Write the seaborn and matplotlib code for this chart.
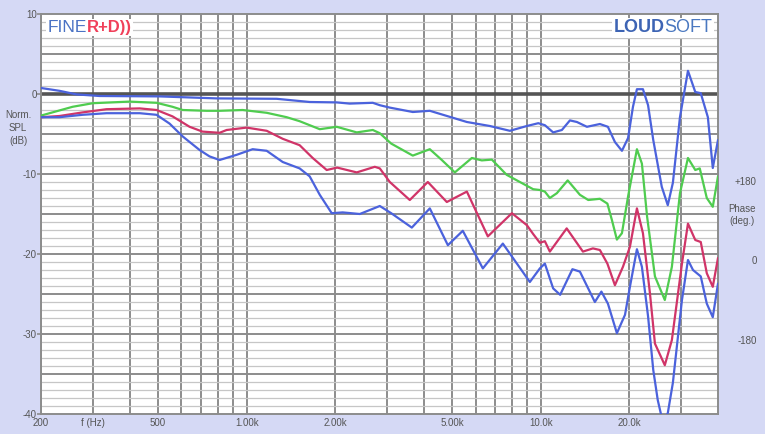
import pandas as pd
import matplotlib
matplotlib.use("Agg")
import matplotlib.pyplot as plt
import seaborn as sns

# Curves (frequency in Hz, normalized SPL in dB)
freq_top = [200, 231, 264, 316, 506, 791, 1265, 1638, 2024, 2240, 2684, 2835, 3066, 3670,
            4193, 5604, 6708, 7846, 8964, 9800, 10318, 11010, 11786, 12554, 13260, 14340,
            15872, 16898, 17852, 18860, 19790, 20560, 21208, 22230, 23140, 24100, 25760,
            27000, 28100, 29700, 31620, 33480, 34950, 36950, 38400, 40000]
spl_top = [0.75, 0.4, -0.05, -0.25, -0.3, -0.55, -0.6, -1.0, -1.05, -1.2, -1.1, -1.4, -1.7,
           -2.25, -2.1, -3.5, -4.0, -4.6, -4.0, -3.65, -3.9, -4.8, -4.5, -3.3, -3.5, -4.1,
           -3.75, -4.1, -6.0, -7.1, -5.5, -1.6, 0.6, 0.6, -1.4, -5.75, -11.6, -13.9, -11.1,
           -2.9, 2.9, 0.25, 0.1, -2.9, -9.25, -5.75]

freq_green = [200, 256, 300, 400, 494, 560, 606, 731, 809, 969, 1170, 1368, 1514, 1772,
              2024, 2367, 2684, 2835, 3100, 3670, 4193, 4606, 5100, 5826, 6300, 6815, 7650,
              8486, 9414, 9922, 10318, 10728, 11332, 12336, 13574, 14490, 15872, 16830,
              17436, 18130, 18860, 19790, 21208, 22050, 22960, 24420, 26380, 27880, 29700,
              31620, 33480, 34680, 36640, 38400, 40000]
spl_green = [-2.7, -1.6, -1.15, -0.95, -1.1, -1.6, -2.0, -2.1, -2.1, -2.0, -2.35, -2.9, -3.4,
             -4.4, -4.1, -4.8, -4.5, -4.9, -6.2, -7.7, -6.9, -8.25, -9.8, -8.0, -8.3, -8.2,
             -10.1, -11.0, -11.9, -12.0, -12.2, -13.0, -12.4, -10.8, -12.6, -13.25, -13.1,
             -13.7, -15.75, -18.2, -17.4, -12.8, -6.9, -8.7, -15.3, -22.8, -25.75, -21.6,
             -12.4, -8.0, -9.5, -9.3, -13.0, -14.1, -10.3]

freq_red = [200, 231, 277, 334, 433, 494, 560, 640, 708, 809, 855, 1000, 1170, 1326, 1514,
            1677, 1871, 2031, 2367, 2726, 2835, 3066, 3585, 4128, 4790, 5604, 6604, 7970,
            8964, 9414, 9922, 10318, 10728, 12240, 13896, 15026, 15872, 16830, 17852, 19010,
            20078, 21208, 22230, 23480, 24420, 26380, 27880, 30170, 31620, 33480, 34950,
            36640, 38400, 40000]
spl_red = [-2.9, -2.75, -2.3, -1.9, -1.8, -2.0, -2.8, -4.1, -4.7, -4.85, -4.5, -4.2, -4.6,
           -5.6, -6.4, -8.0, -9.5, -9.2, -9.8, -9.1, -9.3, -11.0, -13.25, -11.0, -13.5, -12.2,
           -17.8, -14.9, -16.4, -17.5, -18.6, -18.4, -19.7, -16.8, -19.7, -19.3, -19.5, -21.2,
           -23.9, -21.6, -19.1, -14.3, -17.4, -24.9, -31.2, -33.9, -30.75, -21.2, -16.2,
           -18.25, -18.5, -22.4, -24.1, -20.5]

freq_bottom = [200, 231, 277, 334, 433, 494, 547, 606, 692, 748, 809, 925, 1048, 1170, 1326,
               1514, 1638, 1772, 1946, 2120, 2424, 2835, 3100, 3642, 4193, 4830, 5428, 6350,
               7426, 9174, 9922, 10318, 11010, 11630, 12800, 13574, 15260, 16060, 16898,
               18130, 19320, 20078, 21208, 22050, 23140, 24100, 24960, 25960, 27000, 28100,
               30170, 31620, 32890, 34950, 36640, 38400, 40000]
spl_bottom = [-2.9, -2.9, -2.6, -2.4, -2.4, -2.6, -3.7, -5.3, -7.0, -7.8, -8.25, -7.6, -6.9,
              -7.1, -8.5, -9.3, -10.3, -12.6, -14.9, -14.8, -15.0, -14.0, -14.9, -16.7, -14.3,
              -18.9, -17.1, -21.8, -18.7, -23.5, -21.8, -21.2, -24.3, -25.1, -21.9, -22.2,
              -26.0, -24.7, -26.2, -29.9, -27.6, -24.1, -19.4, -21.6, -27.8, -34.5, -38.25,
              -41.0, -39.9, -36.1, -25.75, -20.75, -22.0, -22.8, -26.2, -27.9, -23.7]

# Axis ticks and labels
x_tick_freqs = [200, 300, 500, 1000, 2000, 5000, 10000, 20000]
x_tick_labels = ["200", "f (Hz)", "500", "1.00k", "2.00k", "5.00k", "10.0k", "20.0k"]
x_grid_freqs = [300, 400, 500, 600, 700, 800, 900, 1000, 2000, 3000, 4000, 5000, 6000,
                7000, 8000, 9000, 10000, 20000, 30000]
y_ticks = [10, 0, -10, -20, -30, -40]
phase_ticks = [180, 0, -180]
phase_labels = ["+180", "0", "-180"]

colors = {"top": "#4b62dc", "green": "#4fcc4f", "red": "#d03468", "bottom": "#4b62dc"}

frames = []
for name, f, s in [("top", freq_top, spl_top), ("green", freq_green, spl_green),
                   ("red", freq_red, spl_red), ("bottom", freq_bottom, spl_bottom)]:
    frames.append(pd.DataFrame({"freq": f, "spl": s, "curve": name}))
df = pd.concat(frames, ignore_index=True)

plt.rcParams["font.family"] = ["Liberation Sans", "DejaVu Sans"]
bg = "#d5d9f5"
grid_dark = "#8c8c8c"
text_col = "#555555"

fig = plt.figure(figsize=(7.65, 4.34), dpi=100, facecolor=bg)
ax = fig.add_axes([41 / 765, 20 / 434, 677 / 765, 400 / 434])
ax.set_facecolor("white")

ax.set_xscale("log")
ax.set_xlim(200, 40000)
ax.set_ylim(-40, 10)

# grid lines
for v in range(-39, 10):
    if v % 5 != 0:
        ax.axhline(v, color="#c6c6c6", lw=0.9, zorder=1)
for v in range(-35, 10, 5):
    ax.axhline(v, color=grid_dark if v != 0 else "#555555", lw=1.4 if v != 0 else 2.6, zorder=1.2)
ax.set_xticks(x_grid_freqs, minor=True)
ax.set_xticks(x_tick_freqs)
ax.set_xticklabels(x_tick_labels)
ax.tick_params(axis="x", which="both", length=0, pad=3, labelsize=7, labelcolor=text_col)
ax.xaxis.grid(True, which="both", color=grid_dark, lw=1.4, zorder=1)
ax.set_xticklabels([], minor=True)
ax.set_yticks(y_ticks)
ax.set_yticklabels([str(t) for t in y_ticks])
ax.tick_params(axis="y", length=3, pad=0, width=1.2, color=grid_dark, labelsize=7, labelcolor=text_col)
ax.set_axisbelow(True)
for sp in ax.spines.values():
    sp.set_color(grid_dark)
    sp.set_linewidth(1.4)

sns.lineplot(data=df, x="freq", y="spl", hue="curve", palette=colors, estimator=None,
             sort=False, units="curve", legend=False, lw=1.6, ax=ax, zorder=3,
             solid_joinstyle="round", solid_capstyle="round")
ax.set_xlabel("")
ax.set_ylabel("")

# phase axis on the right
ax2 = ax.twinx()
ax2.set_ylim(-349.4, 560.6)
ax2.set_yticks(phase_ticks)
ax2.set_yticklabels(phase_labels, ha="right")
ax2.tick_params(axis="y", length=0, pad=28, labelsize=7, labelcolor=text_col)
for sp in ax2.spines.values():
    sp.set_visible(False)

fig.text(18 / 765, 1 - 128 / 434, "Norm.\nSPL\n(dB)", ha="center", va="center",
         fontsize=7, color=text_col, linespacing=1.4)
fig.text(742 / 765, 1 - 215 / 434, "Phase\n(deg.)", ha="center", va="center",
         fontsize=7, color=text_col, linespacing=1.3)

# logos
fine = ax.text(0.01, 0.966, "FINE", transform=ax.transAxes, ha="left", va="center",
               fontsize=12.5, color="#4a72c4",
               bbox=dict(fc="white", ec="none", pad=1), zorder=5)
ax.annotate("R+D))", xy=(1, 0), xycoords=fine, ha="left", va="bottom", fontsize=12,
            fontweight="bold", color="#f0405a", bbox=dict(fc="white", ec="none", pad=1),
            zorder=5)
soft = ax.text(0.9915, 0.966, "SOFT", transform=ax.transAxes, ha="right", va="center",
               fontsize=13, color="#4a78c0",
               bbox=dict(fc="white", ec="none", pad=1), zorder=5)
ax.annotate("LOUD", xy=(0, 0), xycoords=soft, ha="right", va="bottom", fontsize=13,
            fontweight="bold", color="#3d64b4", bbox=dict(fc="white", ec="none", pad=1),
            zorder=5)

fig.savefig("out.png", dpi=100, facecolor=bg)
